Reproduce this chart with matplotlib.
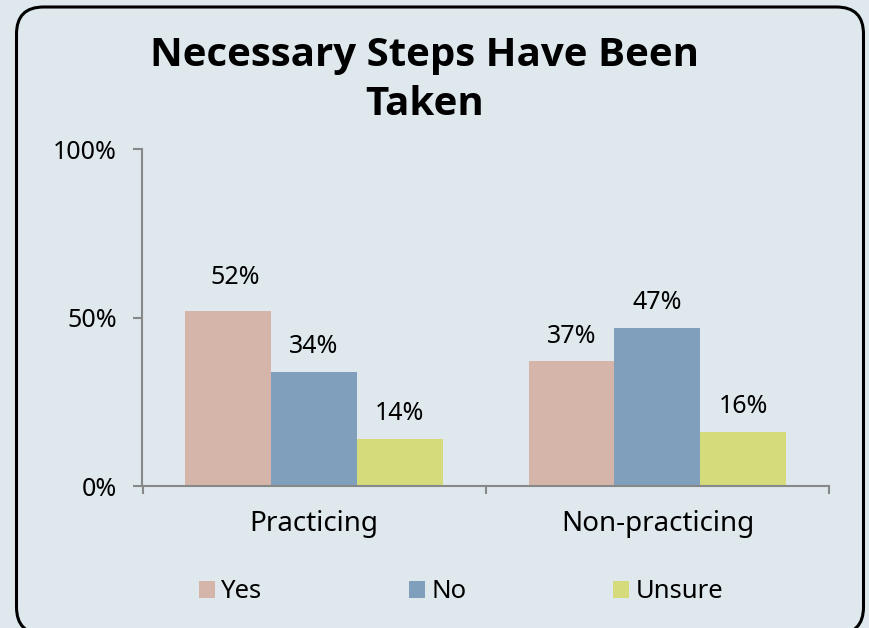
import matplotlib
matplotlib.use("Agg")
import matplotlib.pyplot as plt
from matplotlib.patches import FancyBboxPatch
from matplotlib.transforms import IdentityTransform
from matplotlib.ticker import FixedLocator, NullFormatter

# Survey data
groups = ["Practicing", "Non-practicing"]
series = ["Yes", "No", "Unsure"]
yes_vals = [52, 37]
no_vals = [34, 47]
unsure_vals = [14, 16]
y_ticks = [0, 50, 100]
y_tick_labels = ["0%", "50%", "100%"]
title = "Necessary Steps Have Been\nTaken"

values = [yes_vals, no_vals, unsure_vals]
colors = ["#d5b5a9", "#7f9fbd", "#d5db7a"]
bg = "#dee8ed"
axis_grey = "#888888"
body_font = "Noto Sans"

W, H, DPI = 870, 628, 100
fig = plt.figure(figsize=(W / DPI, H / DPI), dpi=DPI, facecolor=bg)

# Rounded frame around the chart area (pixel coordinates)
frame = FancyBboxPatch((16.5, -6), 847, 628 - 7 + 6,
                       boxstyle="round,pad=0,rounding_size=27",
                       transform=IdentityTransform(), facecolor="none",
                       edgecolor="black", linewidth=2.2, zorder=0)
fig.patches.append(frame)

ax = fig.add_axes([142.5 / W, (H - 486) / H, (829 - 142.5) / W, 336.5 / H])
ax.set_facecolor("none")

bar_w = 0.25
x = list(range(len(groups)))
bars = []
for j, (name, vals, col) in enumerate(zip(series, values, colors)):
    pos = [xi + (j - 1) * bar_w for xi in x]
    b = ax.bar(pos, vals, width=bar_w, color=col, label=name, zorder=2)
    bars.append(b)

# Value labels above each bar
nudge = {(0, 0): (4.7, 6.0)}
for j, b in enumerate(bars):
    for i, rect in enumerate(b):
        dx, dy = nudge.get((j, i), (0, 0))
        v = values[j][i]
        ax.annotate(f"{v}%", (rect.get_x() + rect.get_width() / 2, v),
                    xytext=(dx, 13.5 + dy), textcoords="offset points",
                    ha="center", va="baseline", fontsize=18,
                    family=body_font, color="black")

ax.set_xlim(-0.5, len(groups) - 0.5)
ax.set_ylim(0, 100)

# Y axis
ax.set_yticks(y_ticks)
ax.set_yticklabels(y_tick_labels, family=body_font, fontsize=18)
ax.tick_params(axis="y", length=6.5, width=1.5, color=axis_grey, pad=12)

# X axis: tick marks on group boundaries, labels at group centres
ax.xaxis.set_major_locator(FixedLocator([i - 0.5 for i in range(len(groups) + 1)]))
ax.xaxis.set_major_formatter(NullFormatter())
ax.set_xticks(x, minor=True)
ax.set_xticklabels(groups, minor=True, family=body_font, fontsize=20)
ax.tick_params(axis="x", which="major", length=6, width=1.5, color=axis_grey)
ax.tick_params(axis="x", which="minor", length=0, pad=17)

for s in ["top", "right"]:
    ax.spines[s].set_visible(False)
for s in ["left", "bottom"]:
    ax.spines[s].set_color(axis_grey)
    ax.spines[s].set_linewidth(1.5)

fig.text(425 / W, 1 - 115 / H, title, ha="center", va="baseline",
         multialignment="center", family="Open Sans", weight="bold",
         fontsize=29, linespacing=1.32)

fig.legend(handles=bars, labels=series, loc="center",
           bbox_to_anchor=(461 / W, (H - 592) / H), ncol=3, frameon=False,
           prop={"family": body_font, "size": 18.5},
           handlelength=0.62, handleheight=0.62, handletextpad=0.25,
           columnspacing=5.7, borderpad=0, borderaxespad=0)

fig.savefig("out.png", dpi=DPI, facecolor=bg)
